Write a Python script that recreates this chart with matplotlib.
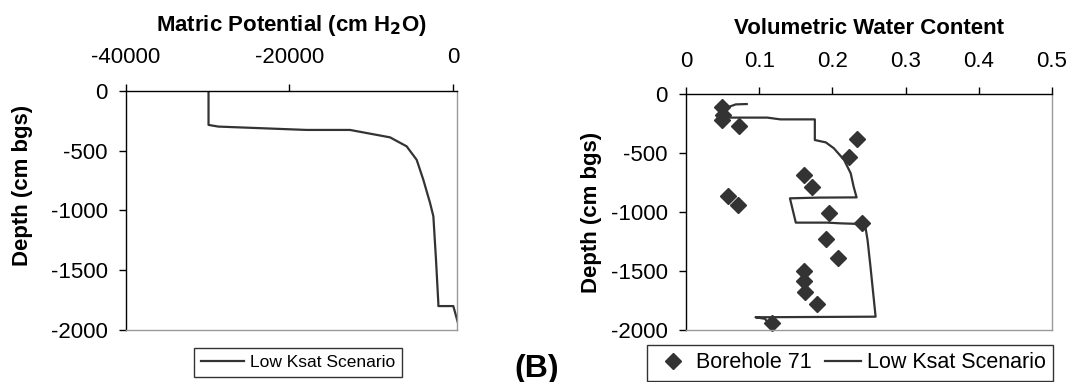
import matplotlib.pyplot as plt

plt.rcParams['font.family'] = ['Liberation Sans', 'DejaVu Sans']
plt.rcParams['axes.unicode_minus'] = False

# Matric potential profile (cm H2O vs depth, cm bgs)
mp_potential = [-3000, -29900, -29900, -28700, -17900, -12600, -7700, -5670,
                -4440, -3630, -2810, -2400, -2080, -1790, -1790, 40, 770]
mp_depth = [0, 0, -286, -300, -328, -328, -390, -465,
            -578, -744, -937, -1050, -1410, -1780, -1800, -1800, -1980]

# Borehole 71 measured volumetric water content
bh_theta = [0.049, 0.050, 0.049, 0.072, 0.233, 0.222, 0.161, 0.172, 0.058, 0.071,
            0.195, 0.241, 0.191, 0.207, 0.161, 0.161, 0.163, 0.179, 0.117]
bh_depth = [-113, -178, -220, -271, -381, -537, -686, -791, -862, -941,
            -1011, -1096, -1232, -1393, -1497, -1585, -1675, -1783, -1944]

# Low Ksat scenario simulated water content
sim_theta = [0.083, 0.068, 0.058, 0.050, 0.052, 0.056, 0.111, 0.129, 0.176, 0.176,
             0.191, 0.202, 0.216, 0.225, 0.229, 0.233, 0.180, 0.142, 0.150,
             0.193, 0.211, 0.241, 0.245, 0.248, 0.252, 0.259, 0.095, 0.108, 0.113]
sim_depth = [-85, -88, -110, -135, -180, -200, -200, -215, -215, -390,
             -410, -460, -559, -672, -785, -876, -878, -884, -1090,
             -1090, -1096, -1102, -1124, -1237, -1463, -1887, -1892, -1905, -1950]

dark = '#333333'
fs = 16

fig = plt.figure(figsize=(10.71, 3.82), dpi=100)
ax1 = fig.add_axes([0.1176, 0.1361, 0.3091, 0.6265])
ax2 = fig.add_axes([0.6405, 0.1361, 0.3418, 0.6178])

def style(ax):
    ax.xaxis.tick_top()
    ax.xaxis.set_label_position('top')
    ax.tick_params(direction='out', length=5, width=1, labelsize=fs, color='black')
    ax.tick_params(axis='x', pad=11)
    ax.tick_params(axis='y', pad=8)
    ax.spines['left'].set_color('black')
    ax.spines['top'].set_color('black')
    ax.spines['right'].set_color('#999999')
    ax.spines['bottom'].set_color('#999999')
    for s in ax.spines.values():
        s.set_linewidth(1)
    ax.set_ylim(-2000, 0)
    ax.set_yticks([0, -500, -1000, -1500, -2000])
    ax.set_ylabel('Depth (cm bgs)', fontsize=fs, fontweight='bold')

# Panel A: matric potential
ax1.plot(mp_potential, mp_depth, color=dark, lw=1.6, label='Low Ksat Scenario')
style(ax1)
ax1.set_xlim(-40000, 490)
ax1.set_xticks([-40000, -20000, 0])
ax1.set_xlabel('Matric Potential (cm H$_\\mathbf{2}$O)', fontsize=fs,
               fontweight='bold', labelpad=12)
ax1.yaxis.set_label_coords(-0.281, 0.604)

# Panel B: volumetric water content
ax2.plot(bh_theta, bh_depth, 'D', color=dark, markersize=8.5, label='Borehole 71',
         clip_on=False)
ax2.plot(sim_theta, sim_depth, color=dark, lw=1.6, label='Low Ksat Scenario')
style(ax2)
ax2.set_xlim(0, 0.5)
ax2.set_xticks([0, 0.1, 0.2, 0.3, 0.4, 0.5])
ax2.set_xticklabels(['0', '0.1', '0.2', '0.3', '0.4', '0.5'])
ax2.set_xlabel('Volumetric Water Content', fontsize=fs, fontweight='bold', labelpad=12)
ax2.yaxis.set_label_coords(-0.2295, 0.5)

leg1 = ax1.legend(loc='upper left', bbox_to_anchor=(194 / 1071, 1 - 348 / 382),
                  bbox_transform=fig.transFigure, fontsize=12.5, frameon=True,
                  fancybox=False, edgecolor='black', handlelength=2.5,
                  handletextpad=0.3, borderaxespad=0, borderpad=0.4)
leg1.get_frame().set_linewidth(1)

h, l = ax2.get_legend_handles_labels()
leg2 = ax2.legend(h, l, loc='upper left', bbox_to_anchor=(647 / 1071, 1 - 345 / 382),
                  bbox_transform=fig.transFigure, fontsize=15.5, ncol=2, frameon=True,
                  fancybox=False, edgecolor='black', handlelength=1.7,
                  handletextpad=0.25, columnspacing=0.6, borderaxespad=0,
                  borderpad=0.34)
leg2.get_frame().set_linewidth(1)

fig.text(514 / 1071, 1 - 377 / 382, '(B)', fontsize=23, fontweight='bold')

fig.savefig('out.png', dpi=100)
